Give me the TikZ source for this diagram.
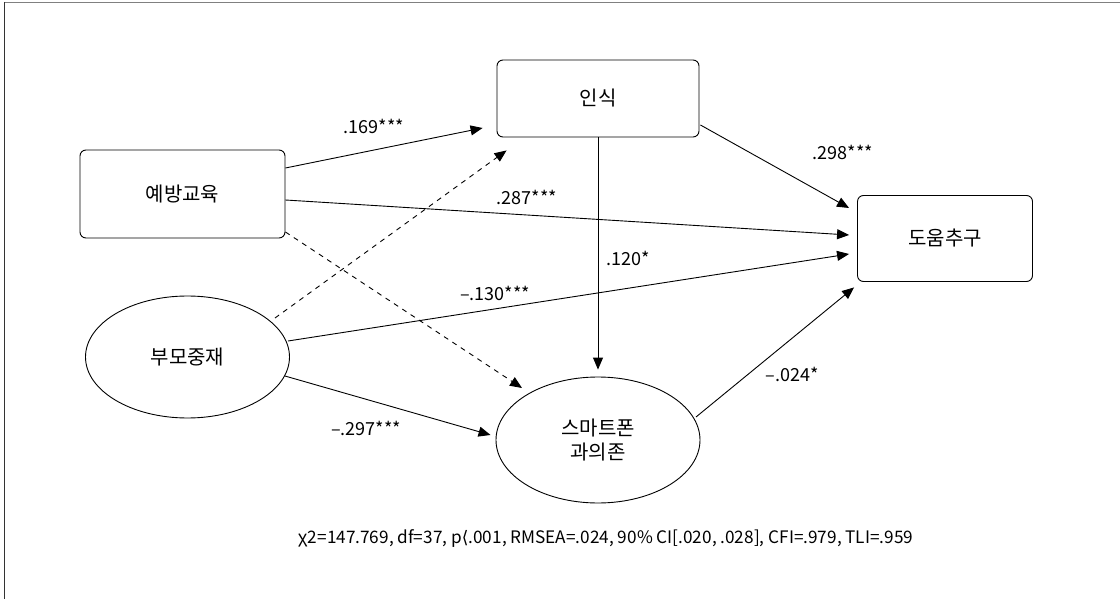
\documentclass[tikz,border=0pt]{standalone}
\usepackage{fontspec}
\setmainfont{Noto Sans CJK KR}
\newfontfamily\djv{DejaVu Sans}
\usetikzlibrary{arrows.meta,calc,shapes.geometric}
\begin{document}
\begin{tikzpicture}[x=1pt,y=-1pt,
  box/.style={draw,line width=0.9pt,rounded corners=6pt,inner sep=0pt,font=\fontsize{20}{22}\selectfont},
  ell/.style={draw,ellipse,line width=0.9pt,inner sep=0pt,font=\fontsize{20}{24}\selectfont,align=center},
  conn/.style={line width=0.9pt,-{Triangle[length=12pt,width=10pt]}},
  dconn/.style={conn,dash pattern=on 5pt off 5pt},
  lab/.style={font=\fontsize{18}{20}\selectfont,inner sep=0pt}]
\useasboundingbox (0,0) rectangle (1120,599);
\fill[white] (0,0) rectangle (1120,599);
\draw[line width=1.5pt,black!50] (4,2.5) -- (1120,2.5);
\draw[line width=1.5pt,black!80] (4.5,2) -- (4.5,599);
% nodes
\node[box,minimum width=202pt,minimum height=77pt] (insik) at (598,98.5) {인식};
\node[box,minimum width=205pt,minimum height=88pt] (yebang) at (182.5,194) {예방교육};
\node[box,minimum width=175pt,minimum height=86pt] (doum) at (945,238.5) {도움추구};
\node[ell,minimum width=204pt,minimum height=122pt] (bumo) at (187.5,357) {부모중재};
\node[ell,minimum width=204pt,minimum height=126pt] (smart) at (598,440) {스마트폰\\과의존};
% connectors
\draw[conn] ($(yebang.east)+(0,-26)$) -- ($(insik.west)+(-14,29.5)$);
\draw[dconn] ($(bumo.center)+(87.5,-39)$) -- ($(insik.south west)+(10,13)$);
\draw[conn] ($(yebang.east)+(0,6)$) -- ($(doum.west)+(-8,-3.5)$);
\draw[conn] ($(bumo.center)+(100.5,-16)$) -- ($(doum.west)+(-8,15.5)$);
\draw[dconn] ($(yebang.east)+(0,38)$) -- ($(smart.center)+(-76,-52)$);
\draw[conn] ($(bumo.center)+(97.5,19)$) -- ($(smart.west)+(-5,-5)$);
\draw[conn] (insik.south) -- ($(smart.north)+(0,-7)$);
\draw[conn] ($(insik.east)+(1,26.5)$) -- ($(doum.west)+(-8,-30.5)$);
\draw[conn] ($(smart.center)+(98,-23)$) -- ($(doum.south west)+(-3,5.5)$);
% labels
\node[lab] (l1) at (374,126) {.169***};
\node[lab] (l2) at (527,197) {.287***};
\node[lab] (l3) at (843,152) {.298***};
\node[lab] (l4) at (628,258) {.120*};
\node[lab] (l5) at (495,293) {–.130***};
\node[lab] (l6) at (366,428) {–.297***};
\node[lab] (l7) at (792,374) {–.024*};
\node[font=\fontsize{17.2}{19}\selectfont,inner sep=0pt] (fit) at (606,539) {χ2=147.769, df=37, p{\djv ⟨}.001, RMSEA=.024, 90\% CI[.020, .028], CFI=.979, TLI=.959};
\end{tikzpicture}
\end{document}
